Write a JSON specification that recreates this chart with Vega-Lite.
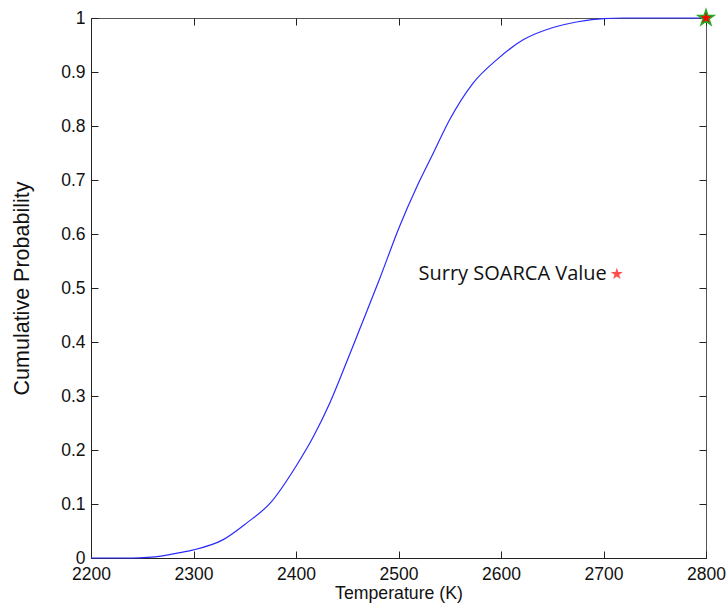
{
  "$schema": "https://vega.github.io/schema/vega-lite/v6.json",
  "width": 615,
  "height": 540,
  "autosize": {"type": "none"},
  "padding": {"left": 91, "top": 18, "right": 20, "bottom": 49},
  "background": "white",
  "config": {
    "view": {"stroke": "#555555", "strokeWidth": 1},
    "axis": {
      "grid": false,
      "domainColor": "#222222",
      "tickColor": "#222222",
      "labelFont": "Liberation Sans",
      "labelFontSize": 17.5,
      "labelColor": "#111111",
      "titleColor": "#111111"
    }
  },
  "datasets": {
    "cdf": [
      {"t": 2200, "p": 0},
      {"t": 2240, "p": 0},
      {"t": 2255, "p": 0.001},
      {"t": 2270, "p": 0.004},
      {"t": 2287, "p": 0.010},
      {"t": 2300, "p": 0.015},
      {"t": 2329, "p": 0.034},
      {"t": 2352, "p": 0.065},
      {"t": 2375, "p": 0.102},
      {"t": 2400, "p": 0.170},
      {"t": 2417, "p": 0.225},
      {"t": 2433, "p": 0.287},
      {"t": 2449, "p": 0.361},
      {"t": 2462, "p": 0.423},
      {"t": 2482, "p": 0.519},
      {"t": 2501, "p": 0.614},
      {"t": 2518, "p": 0.688},
      {"t": 2534, "p": 0.75},
      {"t": 2550, "p": 0.812},
      {"t": 2573, "p": 0.880},
      {"t": 2596, "p": 0.923},
      {"t": 2622, "p": 0.960},
      {"t": 2650, "p": 0.982},
      {"t": 2675, "p": 0.993},
      {"t": 2700, "p": 0.999},
      {"t": 2720, "p": 1},
      {"t": 2800, "p": 1}
    ],
    "note": [{"t": 2713, "p": 0.526, "label": "Surry SOARCA Value"}],
    "mark": [{"t": 2800, "p": 1}]
  },
  "layer": [
    {
      "data": {"name": "cdf"},
      "mark": {"type": "line", "color": "#2a2aff", "strokeWidth": 1.2, "interpolate": "monotone", "clip": false},
      "encoding": {
        "x": {"field": "t", "type": "quantitative", "scale": {"domain": [2200, 2800], "nice": false},
          "axis": {"orient": "bottom", "ticks": false, "tickSize": 0, "title": "Temperature (K)", "titleFont": "Liberation Sans", "titleFontSize": 17.7, "titleFontWeight": "normal", "titlePadding": 2, "labelPadding": 7, "format": "d", "values": [2200, 2300, 2400, 2500, 2600, 2700, 2800], "labelFlush": false}},
        "y": {"field": "p", "type": "quantitative", "scale": {"domain": [0, 1], "nice": false},
          "axis": {"orient": "left", "ticks": false, "tickSize": 0, "title": "Cumulative Probability", "titleFont": "Liberation Sans", "titleFontSize": 21.5, "titleFontWeight": "normal", "titlePadding": 27, "labelPadding": 6, "format": "~g", "values": [0, 0.1, 0.2, 0.3, 0.4, 0.5, 0.6, 0.7, 0.8, 0.9, 1], "labelFlush": false}}
      }
    },
    {
      "data": {"name": "cdf"},
      "mark": {"type": "line", "opacity": 0},
      "encoding": {
        "x": {"field": "t", "type": "quantitative", "scale": {"domain": [2200, 2800], "nice": false},
          "axis": {"orient": "top", "offset": -7, "tickSize": 7, "labels": false, "title": null, "domain": false, "values": [2200, 2300, 2400, 2500, 2600, 2700, 2800]}},
        "y": {"field": "p", "type": "quantitative", "scale": {"domain": [0, 1], "nice": false},
          "axis": {"orient": "right", "offset": -7, "tickSize": 7, "labels": false, "title": null, "domain": false, "values": [0, 0.1, 0.2, 0.3, 0.4, 0.5, 0.6, 0.7, 0.8, 0.9, 1]}}
      }
    },
    {
      "data": {"name": "note"},
      "mark": {"type": "text", "align": "right", "baseline": "middle", "dx": -10, "font": "Open Sans", "fontSize": 20, "color": "#111111"},
      "encoding": {
        "x": {"field": "t", "type": "quantitative",
          "axis": {"orient": "bottom", "offset": -7, "tickSize": 7, "labels": false, "title": null, "domain": false, "values": [2200, 2300, 2400, 2500, 2600, 2700, 2800]}},
        "y": {"field": "p", "type": "quantitative",
          "axis": {"orient": "left", "offset": -7, "tickSize": 7, "labels": false, "title": null, "domain": false, "values": [0, 0.1, 0.2, 0.3, 0.4, 0.5, 0.6, 0.7, 0.8, 0.9, 1]}},
        "text": {"field": "label"}
      }
    },
    {
      "data": {"name": "note"},
      "mark": {"type": "point", "shape": "M0,-1L0.2245,-0.309L0.9511,-0.309L0.3633,0.118L0.5878,0.809L0,0.382L-0.5878,0.809L-0.3633,0.118L-0.9511,-0.309L-0.2245,-0.309Z", "filled": true, "color": "#ff0000", "size": 160, "strokeWidth": 0},
      "encoding": {
        "x": {"field": "t", "type": "quantitative", "axis": null},
        "y": {"field": "p", "type": "quantitative", "axis": null}
      }
    },
    {
      "data": {"name": "mark"},
      "mark": {"type": "point", "shape": "M0,-1L0.2245,-0.309L0.9511,-0.309L0.3633,0.118L0.5878,0.809L0,0.382L-0.5878,0.809L-0.3633,0.118L-0.9511,-0.309L-0.2245,-0.309Z", "filled": true, "fill": "#ff0000", "stroke": "#22aa22", "strokeWidth": 1.5, "opacity": 1, "size": 280, "clip": false},
      "encoding": {
        "x": {"field": "t", "type": "quantitative", "axis": null},
        "y": {"field": "p", "type": "quantitative", "axis": null}
      }
    }
  ],
  "resolve": {"axis": {"x": "independent", "y": "independent"}}
}
